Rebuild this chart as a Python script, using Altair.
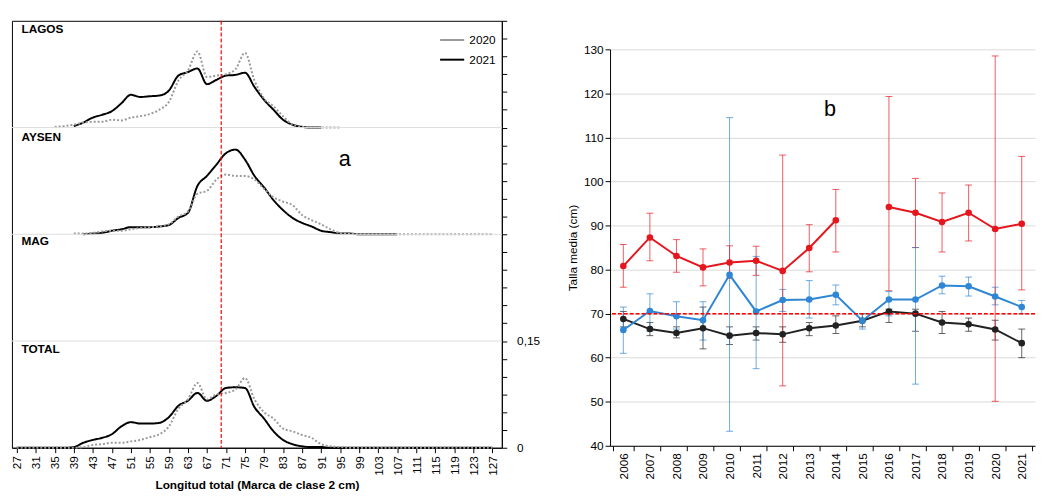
import pandas as pd
import altair as alt

# ---- panel a: length frequency (values in per mille), 2 cm class marks
lagos_2021_start = 39
lagos_2021 = [2, 7, 14, 18, 23, 34, 46, 43, 44, 45, 52, 73, 78, 83, 61, 67, 73, 74, 77, 57, 39, 25, 11, 4, 1, 0, 0]
lagos_2020_start = 35
lagos_2020 = [1, 2, 4, 7, 8, 8, 11, 10, 14, 16, 19, 25, 36, 66, 80, 107, 71, 73, 75, 82, 105, 66, 41, 30, 16, 4, 1, 0, 0, 0, 0]
aysen_2021_start = 41
aysen_2021 = [0, 1, 2, 5, 7, 10, 10, 10, 11, 13, 23, 30, 68, 82, 98, 114, 119, 105, 82, 66, 48, 34, 23, 16, 11, 5, 3, 1, 1, 0, 0, 0, 0, 0]
aysen_2020_start = 39
aysen_2020 = [1, 1, 2, 4, 5, 5, 7, 9, 10, 11, 14, 25, 32, 57, 61, 77, 84, 82, 82, 77, 64, 52, 46, 41, 27, 20, 14, 7, 2, 1, 0,
              0, 0, 0, 0, 0, 0, 0, 0, 0, 0, 0, 0, 0, 0]
total_2021_start = 27
total_2021 = [0, 0, 0, 0, 0, 0, 1, 7, 11, 14, 19, 30, 36, 34, 34, 35, 43, 59, 66, 77, 66, 73, 84, 85, 84, 57, 41, 23, 11, 5, 2, 1, 1,
              0, 0, 0, 0, 0, 0, 0, 0, 0, 0, 0, 0, 0, 0, 0, 0, 0, 0]
total_2020_start = 27
total_2020 = [0, 0, 0, 0, 0, 0, 0, 1, 4, 5, 7, 7, 9, 11, 15, 19, 30, 55, 68, 91, 68, 75, 77, 82, 98, 68, 50, 41, 27, 23, 18, 14, 5, 2, 1,
              0, 0, 0, 0, 0, 0, 0, 0, 0, 0, 0, 0, 0, 0, 0, 0]
zones = ['LAGOS', 'AYSEN', 'MAG', 'TOTAL']
zone_offset = {'LAGOS': 450, 'AYSEN': 300, 'MAG': 150, 'TOTAL': 0}

# ---- panel b: mean length by year
years = [str(y) for y in range(2006, 2022)]
lagos_mean = [68.8, 66.5, 65.6, 66.7, 65.0, 65.6, 65.3, 66.7, 67.3, 68.4, 70.5, 70.0, 68.0, 67.6, 66.4, 63.3]
lagos_hi = [70.5, 68, 67, 71.5, 67, 67, 67, 68, 69.5, 70, 71, 71, 70.5, 69, 68.5, 66.5]
lagos_lo = [67, 65, 64.5, 62, 63, 64, 63.5, 65, 65.5, 67, 68, 66, 65.5, 66, 64, 60]
aysen_mean = [66.3, 70.6, 69.4, 68.5, 78.8, 70.5, 73.1, 73.2, 74.3, 68.4, 73.2, 73.2, 76.4, 76.2, 73.9, 71.5]
aysen_hi = [71.5, 74.5, 72.7, 72.7, 114.5, 83, 75.5, 77.5, 76.5, 70, 75, 85, 78.5, 78.3, 76, 73]
aysen_lo = [61, 66, 66.5, 64, 43.3, 57.5, 70.5, 69, 72, 66.5, 69.5, 54, 74.5, 74, 72, 70]
mag_mean = [80.8, 87.3, 83.1, 80.5, 81.6, 82.0, 79.7, 84.9, 91.2, None, 94.2, 92.9, 90.8, 92.9, 89.2, 90.4]
mag_hi = [85.7, 92.8, 86.8, 84.7, 85.4, 85.3, 106, 90.2, 98.2, None, 119.3, 100.7, 97.4, 99.2, 128.5, 105.7]
mag_lo = [76, 82, 79.4, 76.3, 78, 78.7, 53.6, 79.5, 84, None, 75.2, 85, 84, 86.5, 50.1, 75.4]

FONT = 'Liberation Sans'

rows = []
for zone, year, start, vals in [('LAGOS', '2021', lagos_2021_start, lagos_2021),
                                ('LAGOS', '2020', lagos_2020_start, lagos_2020),
                                ('AYSEN', '2021', aysen_2021_start, aysen_2021),
                                ('AYSEN', '2020', aysen_2020_start, aysen_2020),
                                ('TOTAL', '2021', total_2021_start, total_2021),
                                ('TOTAL', '2020', total_2020_start, total_2020)]:
    for i, v in enumerate(vals):
        rows.append({'zone': zone, 'year': year, 'len': start + 2 * i, 'freq': v,
                     'y': v + zone_offset[zone]})
dfa = pd.DataFrame(rows)

xdom = alt.Scale(domain=[26, 129], nice=False)
ydom = alt.Scale(domain=[0, 600], nice=False)
ax_x = alt.Axis(values=list(range(27, 128, 4)), labelAngle=-90, title='Longitud total (Marca de clase 2 cm)',
                titleFontWeight='bold', titleFontSize=12, labelFontSize=12, grid=False, labelOverlap=False,
                domainColor='black', tickColor='black', labelColor='black', titleColor='black',
                labelPadding=3, labelBound=False, labelFlush=False)
ax_y = alt.Axis(orient='right', values=list(range(0, 601, 25)), grid=False, title=None, labelOverlap=False,
                labelExpr="datum.value == 0 ? '0' : datum.value == 150 ? '0,15' : ''", labelFlush=False,
                labelFontSize=12, domainColor='black', tickColor='black', labelColor='black', labelPadding=10)

curves = alt.Chart(dfa).mark_line(strokeWidth=2, interpolate='monotone').encode(
    x=alt.X('len:Q', scale=xdom, axis=ax_x), y=alt.Y('y:Q', scale=ydom, axis=ax_y),
    color=alt.Color('year:N', scale=alt.Scale(domain=['2020', '2021'], range=['#9a9a9a', 'black']),
                    legend=alt.Legend(orient='top-right', title=None, symbolType='stroke', labelFontSize=12,
                                      symbolSize=600, symbolStrokeWidth=2, labelFont=FONT, offset=6, rowPadding=0)),
    strokeDash=alt.StrokeDash('year:N', scale=alt.Scale(domain=['2020', '2021'], range=[[2, 2], [1, 0]]), legend=None),
    strokeWidth=alt.StrokeWidth('year:N', scale=alt.Scale(domain=['2020', '2021'], range=[1.2, 2]), legend=None),
    detail='zone:N'
)

bounds = alt.Chart(pd.DataFrame({'b': [150, 300, 450]})).mark_rule(color='#dddddd', strokeWidth=1).encode(
    y=alt.Y('b:Q', scale=ydom, axis=ax_y))
red_a = alt.Chart(pd.DataFrame({'x': [70]})).mark_rule(color='red', strokeDash=[4, 2], strokeWidth=1.2).encode(
    x=alt.X('x:Q', scale=xdom, axis=ax_x))
zone_lbl = alt.Chart(pd.DataFrame({'zone': zones, 'yy': [588, 436, 290, 138], 'xx': [28, 28, 28, 28]})).mark_text(
    align='left', baseline='middle', fontWeight='bold', fontSize=12, font=FONT).encode(
    x=alt.X('xx:Q', scale=xdom, axis=ax_x), y=alt.Y('yy:Q', scale=ydom, axis=ax_y), text='zone:N')
a_lbl = alt.Chart(pd.DataFrame({'t': ['a'], 'xx': [96], 'yy': [405]})).mark_text(fontSize=22, font=FONT).encode(
    x=alt.X('xx:Q', scale=xdom, axis=ax_x), y=alt.Y('yy:Q', scale=ydom, axis=ax_y), text='t:N')

panel_a = alt.layer(curves, bounds, red_a, zone_lbl, a_lbl).properties(
    width=498, height=434, view=alt.ViewConfig(stroke='black', strokeWidth=1))

# panel b
brows = []
for name, m, hi, lo in [('LAGOS', lagos_mean, lagos_hi, lagos_lo), ('AYSEN', aysen_mean, aysen_hi, aysen_lo),
                        ('MAG', mag_mean, mag_hi, mag_lo)]:
    seg = 0
    for yr, a, h, l in zip(years, m, hi, lo):
        if a is None:
            seg += 1
            continue
        brows.append({'serie': name, 'year': yr, 'mean': a, 'hi': h, 'lo': l, 'seg': name + str(seg)})
dfb = pd.DataFrame(brows)

cscale = alt.Scale(domain=['LAGOS', 'AYSEN', 'MAG'], range=['#222222', '#2e86d4', '#e5161d'])
xb = alt.X('year:O', scale=alt.Scale(domain=years),
           axis=alt.Axis(labelAngle=-90, title=None, labelFontSize=12, domainColor='black',
                         tickColor='black', labelColor='black', tickBand='extent'))
yscale = alt.Scale(domain=[40, 130], nice=False)
yb = alt.Y('mean:Q', scale=yscale,
           axis=alt.Axis(values=list(range(40, 131, 10)), title='Talla media (cm)', labelFontSize=12,
                         titleFont=FONT, titleFontSize=12, titleFontWeight='normal', gridColor='#d9d9d9',
                         domainColor='black', tickColor='black', labelColor='black', titleColor='black'))

err = alt.Chart(dfb).mark_errorbar(ticks=alt.MarkConfig(size=7), thickness=1).encode(
    x=xb, y=alt.Y('lo:Q', scale=yscale, title='Talla media (cm)'), y2='hi:Q',
    color=alt.Color('serie:N', scale=cscale, legend=None), opacity=alt.value(0.7))
lines = alt.Chart(dfb).mark_line(strokeWidth=2, point=alt.OverlayMarkDef(size=45, filled=True)).encode(
    x=xb, y=yb, color=alt.Color('serie:N', scale=cscale,
                                legend=alt.Legend(orient='top-left', title=None, symbolType='stroke',
                                                  symbolStrokeWidth=2, labelFontSize=13, labelFont=FONT,
                                                  rowPadding=16, offset=12)),
    detail='seg:N')
red_b = alt.Chart(pd.DataFrame({'v': [70]})).mark_rule(color='red', strokeDash=[4, 2], strokeWidth=1.5).encode(y='v:Q')
b_lbl = alt.Chart(pd.DataFrame({'t': ['b'], 'year': ['2014'], 'v': [116.5]})).mark_text(
    fontSize=22, font=FONT, dx=-6).encode(x='year:O', y='v:Q', text='t:N')

panel_b = alt.layer(err, lines, red_b, b_lbl).properties(
    width=432, height=403, view=alt.ViewConfig(stroke=None))

spacer = alt.Chart(pd.DataFrame({'z': [0]})).mark_point(opacity=0).encode(
    x=alt.value(0), y=alt.value(0)).properties(width=432, height=6, view=alt.ViewConfig(stroke=None))

right = alt.vconcat(spacer, panel_b, spacing=17)

chart = alt.hconcat(panel_a, right, spacing=26).resolve_scale(color='independent').properties(
    padding={'left': 2, 'top': 2, 'right': 0, 'bottom': 0}
).configure_axis(labelFont=FONT, titleFont=FONT)

chart.save("out.html", embed_options={"renderer": "svg", "actions": False})
